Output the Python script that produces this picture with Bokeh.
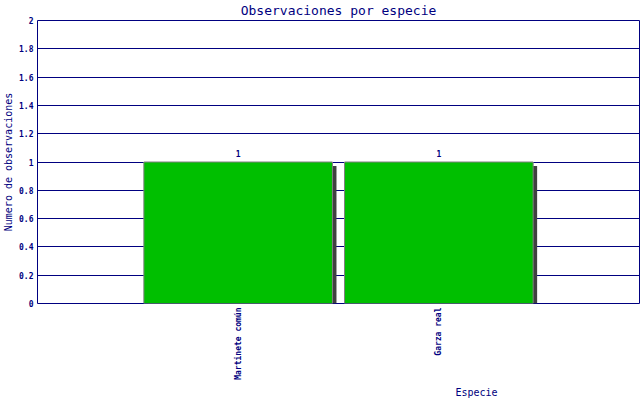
import math
from bokeh.plotting import figure
from bokeh.models import Range1d, FixedTicker, Title
from bokeh.core.properties import value
from bokeh.embed import file_html
from bokeh.resources import INLINE

# ---- data ----
species = ["Martinete común", "Garza real"]
counts = [1, 1]
y_ticks = [0, 0.2, 0.4, 0.6, 0.8, 1, 1.2, 1.4, 1.6, 1.8, 2]
y_tick_labels = ["0", "0.2", "0.4", "0.6", "0.8", "1", "1.2", "1.4", "1.6", "1.8", "2"]
title_text = "Observaciones por especie"
x_title = "Especie"
y_title = "Numero de observaciones"

NAVY = "#000080"
FONT = "DejaVu Sans Mono"

W, H = 640, 400
LEFT, RIGHT, TOP, BOTTOM = 36, 1, 20, 97
frame_w = W - LEFT - RIGHT
frame_h = H - TOP - BOTTOM

xs = list(range(1, len(species) + 1))
x_max = len(species) + 1
y_max = y_ticks[-1]
px_x = x_max / frame_w
px_y = y_max / frame_h
bar_w = 0.94

p = figure(width=W, height=H, x_range=Range1d(0, x_max), y_range=Range1d(0, y_max),
           output_backend="svg", toolbar_location=None,
           min_border_left=LEFT, min_border_right=RIGHT, min_border_top=TOP,
           min_border_bottom=BOTTOM, background_fill_color="white",
           border_fill_color="white", outline_line_color=NAVY, outline_line_width=1)

p.title.text = title_text
p.title.align = "center"
p.title.vertical_align = "top"
p.title.text_font = FONT
p.title.text_font_size = "13px"
p.title.text_font_style = "normal"
p.title.text_color = NAVY
p.title.standoff = 2

# axes
p.axis.axis_line_color = None
p.axis.major_tick_line_color = None
p.axis.minor_tick_line_color = None
p.axis.major_tick_out = 0
p.axis.major_tick_in = 0
p.axis.major_label_text_font = FONT
p.axis.major_label_text_font_size = "8px"
p.axis.major_label_text_font_style = "bold"
p.axis.major_label_text_color = NAVY
p.axis.major_label_standoff = 4

p.yaxis.ticker = FixedTicker(ticks=y_ticks)
p.yaxis.major_label_overrides = dict(zip(y_ticks, y_tick_labels))
p.yaxis.axis_label = y_title
p.yaxis.axis_label_text_font = FONT
p.yaxis.axis_label_text_font_size = "10px"
p.yaxis.axis_label_text_font_style = "normal"
p.yaxis.axis_label_text_color = NAVY
p.yaxis.axis_label_standoff = 2

p.xaxis.ticker = FixedTicker(ticks=xs)
p.xaxis.major_label_overrides = dict(zip(xs, species))
p.xaxis.major_label_orientation = math.pi / 2

p.add_layout(Title(text=x_title, align="left", offset=418, standoff=4,
                   text_font=FONT, text_font_size="10px", text_font_style="normal",
                   text_color=NAVY), "below")

p.xgrid.visible = False
p.ygrid.grid_line_color = NAVY
p.ygrid.grid_line_width = 1

# shadows
p.vbar(x=[x + 4 * px_x for x in xs], width=bar_w,
       top=[c - 4 * px_y for c in counts], bottom=0,
       fill_color="#404040", line_color=None)
# bars
p.vbar(x=xs, width=bar_w, top=counts, bottom=0,
       fill_color="#00BF00", line_color="#808080", line_width=1)

# value labels
p.text(x=xs, y=counts, text=[str(c) for c in counts], y_offset=-5,
       text_align="center", text_baseline="bottom",
       text_font=value(FONT), text_font_size="8px", text_font_style="bold",
       text_color=NAVY)

open("out.html", "w").write(file_html(p, INLINE))
